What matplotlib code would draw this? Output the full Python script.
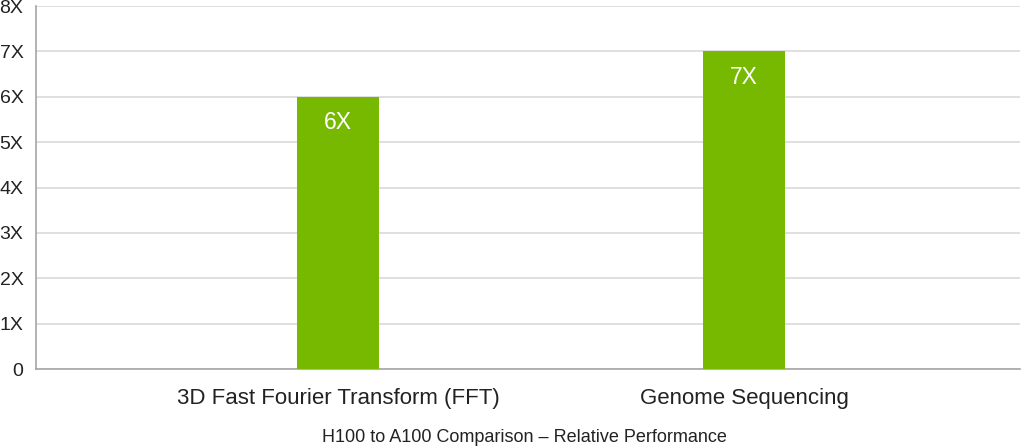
import matplotlib.pyplot as plt

categories = ['3D Fast Fourier Transform (FFT)', 'Genome Sequencing']
speedup = [6, 7]
value_labels = ['6X', '7X']
y_ticks = [0, 1, 2, 3, 4, 5, 6, 7, 8]
y_tick_labels = ['0', '1X', '2X', '3X', '4X', '5X', '6X', '7X', '8X']

plt.rcParams['font.family'] = ['Liberation Sans', 'DejaVu Sans']
green = '#76b900'

fig = plt.figure(figsize=(10.24, 4.48), dpi=100)
ax = fig.add_axes([36 / 1024, 79 / 448, 984 / 1024, 363 / 448])

x = list(range(len(categories)))
ax.bar(x, speedup, width=0.2, color=green, zorder=3)
for xi, v, lab in zip(x, speedup, value_labels):
    ax.text(xi, v - 0.57, lab, ha='center', va='center', color='white', fontsize=16.5, zorder=4)

ax.set_xlim(-0.744, 1.68)
ax.set_ylim(0, 8)
ax.set_yticks(y_ticks)
ax.set_yticklabels(y_tick_labels, fontsize=14, color='#222222')
ax.set_xticks(x)
ax.set_xticklabels(categories, fontsize=16, color='#222222')
ax.tick_params(axis='both', length=0)
ax.tick_params(axis='x', pad=14)
ax.tick_params(axis='y', pad=9)
ax.yaxis.grid(True, color='#d9d9d9', linewidth=1.2, zorder=0)
for s in ['top', 'right']:
    ax.spines[s].set_visible(False)
ax.spines['left'].set_color('#a6a6a6')
ax.spines['bottom'].set_color('#a6a6a6')
ax.spines['left'].set_linewidth(1.2)
ax.spines['bottom'].set_linewidth(1.2)

fig.text(524 / 1024, 1 - 437 / 448, 'H100 to A100 Comparison \u2013 Relative Performance',
         ha='center', va='center', fontsize=13, color='#222222')

fig.savefig('out.png', dpi=100)
